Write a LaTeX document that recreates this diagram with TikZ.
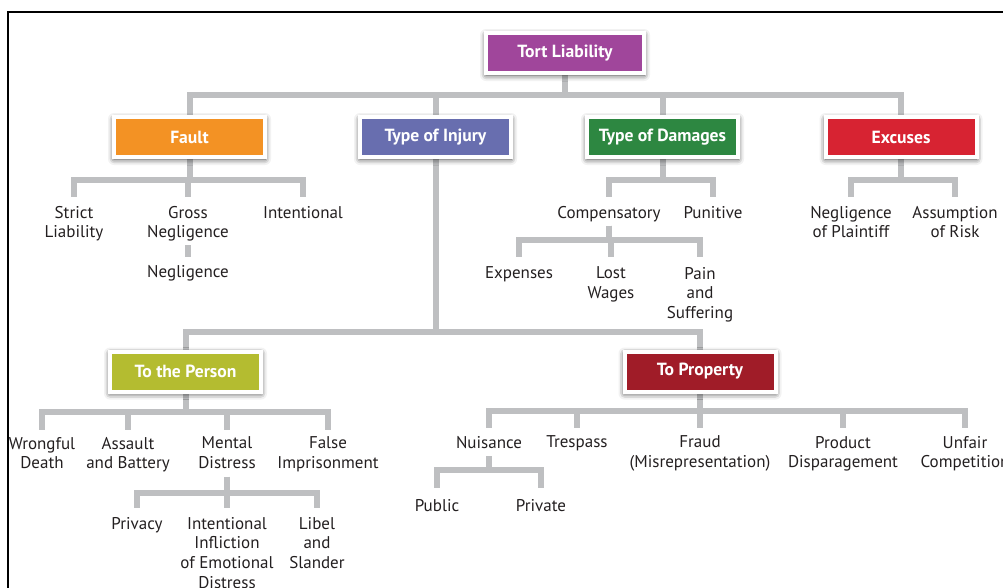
\documentclass[tikz,border=0pt]{standalone}
\usepackage{fontspec}
\setmainfont{PT Sans}
\usetikzlibrary{shadows.blur}
\pgfdeclarelayer{bg}
\pgfsetlayers{bg,main}
\definecolor{cTort}{RGB}{160,70,155}
\definecolor{cFault}{RGB}{243,146,36}
\definecolor{cInjury}{RGB}{104,110,175}
\definecolor{cDamages}{RGB}{45,135,65}
\definecolor{cExcuses}{RGB}{215,35,50}
\definecolor{cPerson}{RGB}{180,188,48}
\definecolor{cProperty}{RGB}{160,28,40}
\definecolor{lineGray}{RGB}{190,191,193}
\definecolor{txt}{RGB}{35,31,32}
\begin{document}
\begin{tikzpicture}[x=1pt,y=-1pt,
  lbl/.style={font=\fontsize{17}{19.7}\selectfont, align=center, inner sep=0pt, outer sep=0pt, anchor=north, text=txt},
  box/.style={font=\fontsize{17.6}{19}\selectfont\bfseries, text=white, draw=white, line width=4pt,
    minimum width=151pt, minimum height=40pt, inner sep=0pt,
    blur shadow={shadow xshift=0pt, shadow yshift=-2pt, shadow blur radius=6pt, shadow opacity=80}},
  conn/.style={draw=lineGray, line width=6pt},
  frame/.style={draw=black, line width=2pt}
]
\useasboundingbox (0,0) rectangle (1003,587);

% boxes
\node[box, fill=cTort, minimum width=158pt] (tort) at (565,53) {Tort Liability};
\node[box, fill=cFault] (fault) at (189.5,137) {Fault};
\node[box, fill=cInjury] (injury) at (435.5,137) {Type of Injury};
\node[box, fill=cDamages] (damages) at (662.5,137) {Type of Damages};
\node[box, fill=cExcuses] (excuses) at (901,137) {Excuses};
\node[box, fill=cPerson] (person) at (185.5,371.5) {To the Person};
\node[box, fill=cProperty] (property) at (700,371.5) {To Property};

% labels
\node[lbl] (strict) at (74,206) {Strict\\Liability};
\node[lbl] (gross) at (188,206) {Gross\\Negligence};
\node[lbl] (intent) at (303,206) {Intentional};
\node[lbl] (negl) at (188,265) {Negligence};
\node[lbl] (comp) at (609,206) {Compensatory};
\node[lbl] (punit) at (713,206) {Punitive};
\node[lbl] (negpl) at (851,206) {Negligence\\of Plaintiff};
\node[lbl] (assum) at (955,206) {Assumption\\of Risk};
\node[lbl] (exp) at (519,267) {Expenses};
\node[lbl] (lost) at (611,267) {Lost\\Wages};
\node[lbl] (pain) at (700,267) {Pain\\and\\Suffering};
\node[lbl] (wrong) at (42,437) {Wrongful\\Death};
\node[lbl] (assault) at (128,437) {Assault\\and Battery};
\node[lbl] (mental) at (227,437) {Mental\\Distress};
\node[lbl] (false) at (328,437) {False\\Imprisonment};
\node[lbl] (privacy) at (137,517) {Privacy};
\node[lbl] (iied) at (227,517) {Intentional\\Infliction\\of Emotional\\Distress};
\node[lbl] (libel) at (317,517) {Libel\\and\\Slander};
\node[lbl] (nuis) at (489,436) {Nuisance};
\node[lbl] (tresp) at (577,436) {Trespass};
\node[lbl] (fraud) at (700,436) {Fraud\\(Misrepresentation)};
\node[lbl] (prod) at (843,436) {Product\\Disparagement};
\node[lbl] (unfair) at (965,436) {Unfair\\Competition};
\node[lbl] (public) at (437,499) {Public};
\node[lbl] (private) at (541,499) {Private};

% frame
\draw[frame] (8,590) -- (8,12) -- (1006,12);

\begin{pgfonlayer}{bg}
% level 1
\foreach \c in {fault,injury,damages,excuses}
  \draw[conn] (tort.south) -- (tort.south |- 0,95) -| (\c.north);
% fault
\foreach \c in {strict,gross,intent}
  \draw[conn, shorten >=9pt] (fault.south) -- (fault.south |- 0,180) -| (\c.north);
\draw[conn, shorten <=4pt, shorten >=8pt] (gross.south) -- (negl.north);
% damages
\foreach \c in {comp,punit}
  \draw[conn, shorten >=9pt] (damages.south) -- (damages.south |- 0,180) -| (\c.north);
\foreach \c in {exp,lost,pain}
  \draw[conn, shorten <=4pt, shorten >=10pt] (comp.south) -- (comp.south |- 0,240) -| (\c.north);
% excuses
\foreach \c in {negpl,assum}
  \draw[conn, shorten >=9pt] (excuses.south) -- (excuses.south |- 0,180) -| (\c.north);
% injury
\foreach \c in {person,property}
  \draw[conn] (injury.south) -- (injury.south |- 0,332) -| (\c.north);
% person
\foreach \c in {wrong,assault,mental,false}
  \draw[conn, shorten >=7pt] (person.south) -- (person.south |- 0,412) -| (\c.north);
\foreach \c in {privacy,iied,libel}
  \draw[conn, shorten <=8pt, shorten >=9pt] (mental.south) -- (mental.south |- 0,493) -| (\c.north);
% property
\foreach \c in {nuis,tresp,fraud,prod,unfair}
  \draw[conn, shorten >=8pt] (property.south) -- (property.south |- 0,411) -| (\c.north);
\foreach \c in {public,private}
  \draw[conn, shorten <=8pt, shorten >=11pt] (nuis.south) -- (nuis.south |- 0,470) -| (\c.north);
\end{pgfonlayer}
\end{tikzpicture}
\end{document}
